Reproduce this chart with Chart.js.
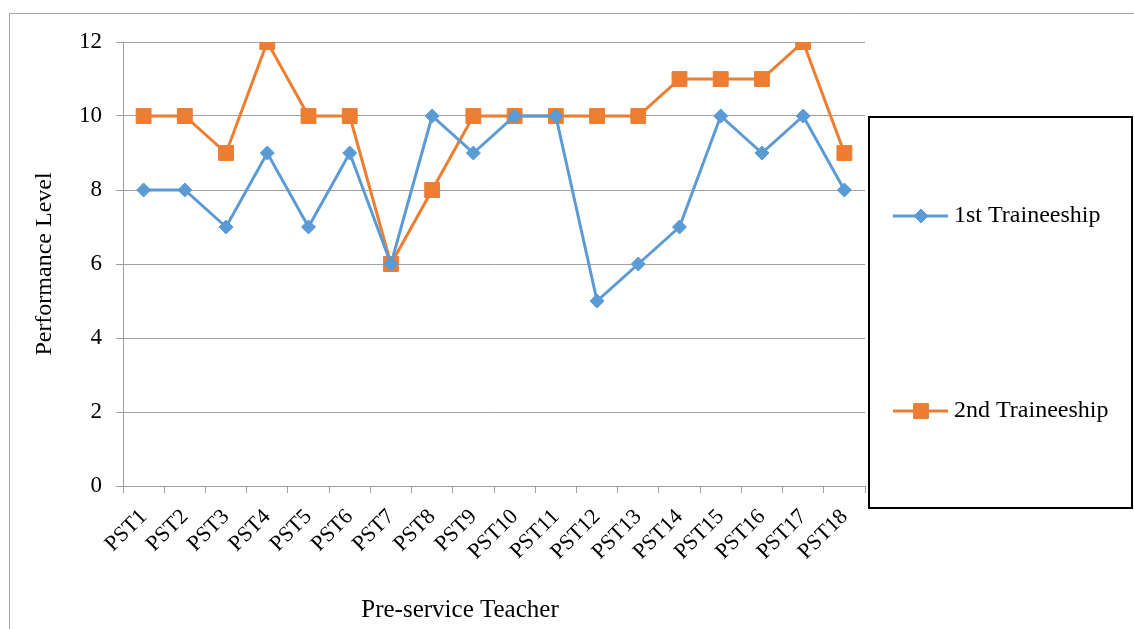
<!DOCTYPE html>
<html>
<head>
<meta charset="utf-8">
<script src="https://cdn.jsdelivr.net/npm/chart.js@4/dist/chart.umd.min.js"></script>
<style>
html,body{margin:0;padding:0;background:#fff;}
#wrap{position:relative;width:1134px;height:629px;}
</style>
</head>
<body>
<div id="wrap"><canvas id="c" width="1134" height="629"></canvas></div>
<script>
const categories = ["PST1","PST2","PST3","PST4","PST5","PST6","PST7","PST8","PST9","PST10","PST11","PST12","PST13","PST14","PST15","PST16","PST17","PST18"];
const firstTraineeship = [8,8,7,9,7,9,6,10,9,10,10,5,6,7,10,9,10,8];
const secondTraineeship = [10,10,9,12,10,10,6,8,10,10,10,10,10,11,11,11,12,9];
const seriesNames = ["1st Traineeship","2nd Traineeship"];
const yTitle = "Performance Level";
const xTitle = "Pre-service Teacher";

const BLUE = '#5B9BD5', ORANGE = '#ED7D31', GRID = '#a0a0a0';
const FONT = "'Liberation Serif', 'Times New Roman', serif";

const extras = {
  id: 'extras',
  afterDraw(chart) {
    const ctx = chart.ctx;
    ctx.save();
    // outer frame
    ctx.strokeStyle = '#a6a6a6';
    ctx.lineWidth = 1;
    ctx.beginPath();
    ctx.moveTo(9.5, 700); ctx.lineTo(9.5, 13.5); ctx.lineTo(1200, 13.5);
    ctx.stroke();
    // x axis title
    ctx.fillStyle = '#000';
    ctx.font = "25px " + FONT;
    ctx.textAlign = 'center';
    ctx.textBaseline = 'alphabetic';
    ctx.fillText(xTitle, 460, 617);
    // legend box
    ctx.strokeStyle = '#000';
    ctx.lineWidth = 2;
    ctx.strokeRect(869, 117, 263, 391);
    const items = [
      {ds: chart.data.datasets[0], y: 216},
      {ds: chart.data.datasets[1], y: 411}
    ];
    items.forEach(it => {
      ctx.strokeStyle = it.ds.borderColor;
      ctx.lineWidth = 3;
      ctx.beginPath();
      ctx.moveTo(893, it.y); ctx.lineTo(948, it.y);
      ctx.stroke();
      ctx.fillStyle = it.ds.pointBackgroundColor;
      ctx.strokeStyle = it.ds.pointBorderColor;
      ctx.lineWidth = 1;
      Chart.helpers.drawPoint(ctx, {pointStyle: it.ds.pointStyle, radius: it.ds.pointRadius, rotation: 0, borderWidth: 1}, 921, it.y);
      ctx.fillStyle = '#000';
      ctx.font = "24px " + FONT;
      ctx.textAlign = 'left';
      ctx.textBaseline = 'middle';
      ctx.fillText(it.ds.label, 954, it.y);
    });
    ctx.restore();
  }
};

new Chart(document.getElementById('c'), {
  type: 'line',
  data: {
    labels: categories,
    datasets: [
      {label: seriesNames[0], data: firstTraineeship, borderColor: BLUE, backgroundColor: BLUE,
       borderWidth: 3, pointStyle: 'rectRot', pointRadius: 7, pointBackgroundColor: BLUE, pointBorderColor: BLUE,
       pointBorderWidth: 1, tension: 0, fill: false},
      {label: seriesNames[1], data: secondTraineeship, borderColor: ORANGE, backgroundColor: ORANGE,
       borderWidth: 3, pointStyle: 'rect', pointRadius: 10.5, pointBackgroundColor: ORANGE, pointBorderColor: ORANGE,
       pointBorderWidth: 1, tension: 0, fill: false}
    ]
  },
  options: {
    responsive: false,
    animation: false,
    layout: {padding: {left: 0, top: 42, right: 269, bottom: 0}},
    plugins: {legend: {display: false}, tooltip: {enabled: false}},
    scales: {
      x: {
        offset: true,
        grid: {drawOnChartArea: false, drawTicks: true, tickLength: 7, offset: true, color: GRID, lineWidth: 1},
        border: {display: true, color: GRID, width: 1},
        ticks: {color: '#000', font: {family: FONT, size: 22}, minRotation: 45, maxRotation: 45, padding: 11, autoSkip: false},
        afterFit(s) { s.height = 143; }
      },
      y: {
        min: 0, max: 12,
        grid: {color: GRID, lineWidth: 1, tickLength: 7, drawTicks: true},
        border: {display: true, color: GRID, width: 1},
        ticks: {stepSize: 2, color: '#000', font: {family: FONT, size: 23}, padding: 14},
        title: {display: true, text: yTitle, color: '#000', font: {family: FONT, size: 24}, padding: {top: 30, bottom: 0}},
        afterFit(s) { s.width = 123; }
      }
    }
  },
  plugins: [extras]
});
</script>
</body>
</html>
